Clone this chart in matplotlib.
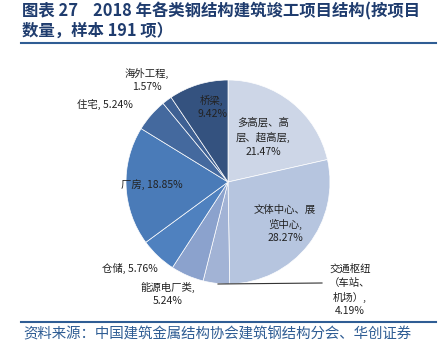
import matplotlib.pyplot as plt
from matplotlib.lines import Line2D

plt.rcParams['font.family'] = ['Noto Sans CJK SC', 'DejaVu Sans']

labels = ['多高层、高\n层、超高层,\n21.47%', '文体中心、展\n览中心,\n28.27%', '交通枢纽\n（车站、\n机场）,\n4.19%',
          '能源电厂类,\n5.24%', '仓储, 5.76%', '厂房, 18.85%', '住宅, 5.24%', '海外工程,\n1.57%', '桥梁,\n9.42%']
shares = [21.47, 28.27, 4.19, 5.24, 5.76, 18.85, 5.24, 1.57, 9.42]
colors = ['#cdd6e7', '#b6c5df', '#a2b3d5', '#8ba2cd', '#4f81bf', '#4a7bb8', '#44699e', '#3e6093', '#34527f']

H = 362
fig = plt.figure(figsize=(4.41, 3.62), dpi=100)
ax = fig.add_axes([0, 0, 1, 1])

ax.pie(shares, colors=colors, startangle=90, counterclock=False,
       center=(228, H - 182), radius=102, frame=True,
       wedgeprops=dict(edgecolor='white', linewidth=0.5))
ax.set_xlim(0, 441)
ax.set_ylim(0, H)
ax.axis('off')

# label positions in pixels (x, y from top)
pos = [(263, 137), (285, 224), (350, 290), (168, 294), (130, 268), (152, 185), (105, 105), (147, 80), (212, 107)]
for lab, (x, y) in zip(labels, pos):
    ax.text(x, H - y, lab, ha='center', va='center', fontsize=7.5, color='#222222', linespacing=1.45)

# leader line for 交通枢纽
ax.plot([218, 322], [H - 284, H - 283], color='#333333', lw=0.8)

title_col = '#1f3c6e'
fig.text(22 / 441, 1 - 11 / H, '图表 27    2018 年各类钢结构建筑竣工项目结构(按项目', fontsize=11.8,
         fontweight='bold', color=title_col, va='center', ha='left')
fig.text(22 / 441, 1 - 31 / H, '数量，样本 191 项）', fontsize=11.8,
         fontweight='bold', color=title_col, va='center', ha='left')
fig.add_artist(Line2D([21 / 441, 436 / 441], [1 - 43 / H, 1 - 43 / H], color='#2f5d94', lw=1.5))
fig.add_artist(Line2D([21 / 441, 436 / 441], [1 - 322 / H, 1 - 322 / H], color='#2f5d94', lw=1.5))
fig.text(23 / 441, 1 - 334 / H, '资料来源：中国建筑金属结构协会建筑钢结构分会、华创证券', fontsize=10.4,
         color='#2f5d94', style='italic', va='center', ha='left')

fig.savefig('out.png', dpi=100)
